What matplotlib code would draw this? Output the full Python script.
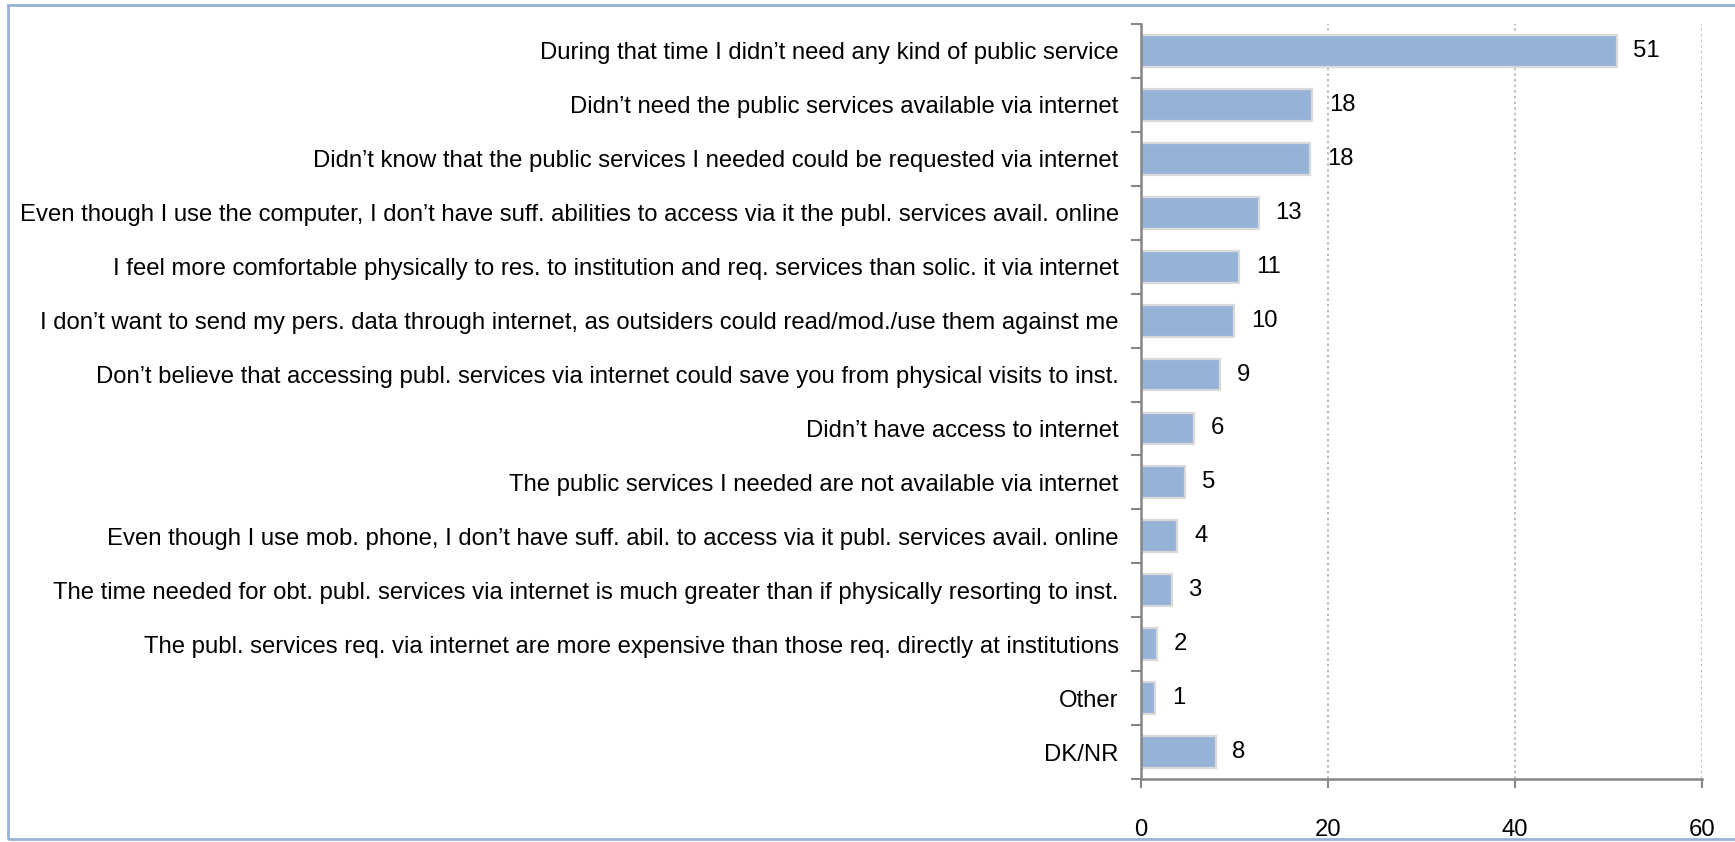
import matplotlib
matplotlib.use('Agg')
import matplotlib.pyplot as plt
from matplotlib.patches import Rectangle
from matplotlib.ticker import FixedLocator

# Reasons for not using public services online (% of respondents)
reasons = [
    'During that time I didn\u2019t need any kind of public service',
    'Didn\u2019t need the public services available via internet',
    'Didn\u2019t know that the public services I needed could be requested via internet',
    'Even though I use the computer, I don\u2019t have suff. abilities to access via it the publ. services avail. online',
    'I feel more comfortable physically to res. to institution and req. services than solic. it via internet',
    'I don\u2019t want to send my pers. data through internet, as outsiders could read/mod./use them against me',
    'Don\u2019t believe that accessing publ. services via internet could save you from physical visits to inst.',
    'Didn\u2019t have access to internet',
    'The public services I needed are not available via internet',
    'Even though I use mob. phone, I don\u2019t have suff. abil. to access via it publ. services avail. online',
    'The time needed for obt. publ. services via internet is much greater than if physically resorting to inst.',
    'The publ. services req. via internet are more expensive than those req. directly at institutions',
    'Other',
    'DK/NR',
]
values = [50.9, 18.3, 18.1, 12.6, 10.5, 10.0, 8.5, 5.7, 4.7, 3.9, 3.3, 1.7, 1.5, 8.0]
labels = [51, 18, 18, 13, 11, 10, 9, 6, 5, 4, 3, 2, 1, 8]
xticks = [0, 20, 40, 60]

plt.rcParams['font.family'] = ['Liberation Sans', 'DejaVu Sans']
fs = 17.2
axis_grey = '#868686'

fig = plt.figure(figsize=(17.35, 8.42), dpi=100)
ax = fig.add_axes([0.6576, 0.0748, 0.3233, 0.8967])

pos = list(range(len(reasons)))
bars = ax.barh(pos, values, height=0.59, color='#95B3D7',
               edgecolor='#D9D9D9', linewidth=1.6, zorder=3)
ax.bar_label(bars, labels=[str(v) for v in labels], padding=12, fontsize=fs)

ax.set_ylim(len(reasons) - 0.5, -0.5)
ax.set_xlim(0, 60)

# category labels, tick marks between categories
ax.set_yticks(pos)
ax.set_yticklabels(reasons, fontsize=fs)
ax.yaxis.set_minor_locator(FixedLocator([p - 0.5 for p in pos] + [len(pos) - 0.5]))
ax.tick_params(axis='y', which='major', length=0, pad=16)
ax.tick_params(axis='y', which='minor', length=7, width=1.5, color=axis_grey, direction='out')

ax.set_xticks(xticks)
ax.set_xticklabels([str(t) for t in xticks], fontsize=fs)
ax.tick_params(axis='x', length=6.5, width=1.5, color=axis_grey, direction='out', pad=22)

ax.xaxis.grid(True, linestyle=(0, (1.2, 1.5)), color='#BFBFBF', linewidth=1.5, zorder=0)
ax.set_axisbelow(True)

for side in ['top', 'right']:
    ax.spines[side].set_visible(False)
for side in ['left', 'bottom']:
    ax.spines[side].set_color(axis_grey)
    ax.spines[side].set_linewidth(1.8)
    ax.spines[side].set_zorder(4)

# outer chart frame (right side runs off the picture)
frame = Rectangle((8 / 1735, 1 - 839 / 842), 1.2, (839 - 5) / 842,
                  transform=fig.transFigure, fill=False,
                  edgecolor='#95B3D7', linewidth=2.0, zorder=10)
fig.patches.append(frame)

fig.savefig('out.png', dpi=100)
